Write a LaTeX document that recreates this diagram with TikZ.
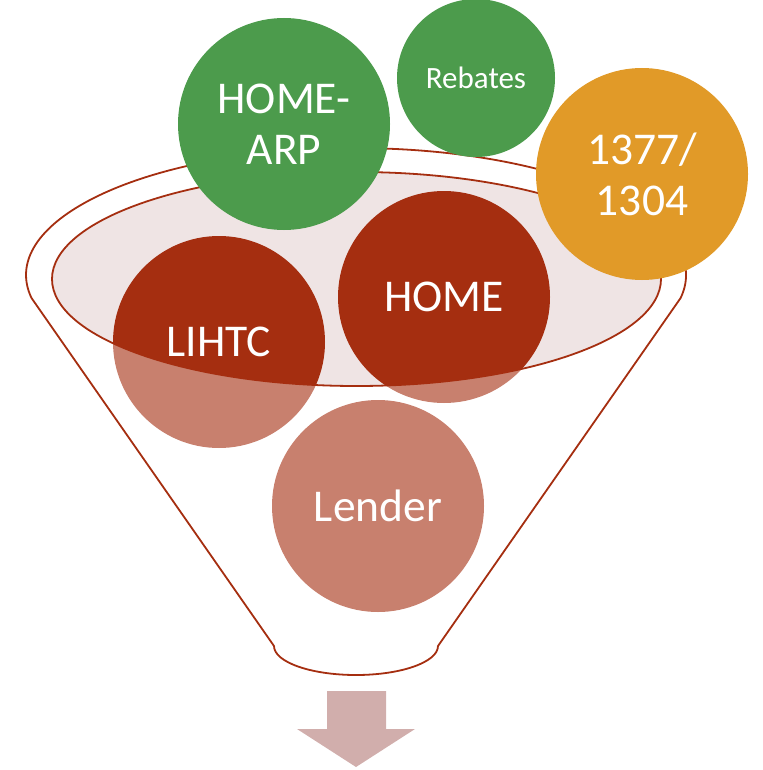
\documentclass[tikz,border=0pt]{standalone}
\usepackage{fontspec}
\setmainfont{Carlito}
\definecolor{fungreen}{RGB}{76,155,76}
\definecolor{funorange}{RGB}{225,154,40}
\definecolor{fundark}{RGB}{165,46,16}
\definecolor{funlight}{RGB}{200,128,110}
\definecolor{funmouth}{RGB}{239,228,228}
\definecolor{funarrow}{RGB}{209,174,172}
\begin{document}
\begin{tikzpicture}[x=1pt,y=-1pt,
  ball/.style={circle,minimum size=212pt,inner sep=0pt,draw=none},
  smallball/.style={circle,minimum size=158pt,inner sep=0pt,draw=none},
  balltext/.style={text=white,align=center,inner sep=0pt,
    font=\fontsize{45.5}{51}\selectfont},
  smalltext/.style={text=white,align=center,inner sep=0pt,
    font=\fontsize{31}{34}\selectfont},
  rim/.style={draw=fundark,line width=1.8pt}]
\useasboundingbox (0,0) rectangle (762,770);

% balls sitting in the funnel (light parts, below the mouth)
\node[ball,fill=funlight] (lihtc) at (219,342) {};
\node[ball,fill=funlight] (home) at (444,297) {};
\node[ball,fill=funlight] (lender) at (378,506) {};

% funnel mouth with the balls seen through it
\coordinate (mouth) at (356.5,279);
\begin{scope}
  \clip (mouth) ellipse [x radius=304.5pt, y radius=107pt];
  \fill[funmouth] (mouth) ellipse [x radius=304.5pt, y radius=107pt];
  \fill[fundark] (lihtc.center) circle [radius=106pt];
  \fill[fundark] (home.center) circle [radius=106pt];
\end{scope}
\draw[rim] (mouth) ellipse [x radius=304.5pt, y radius=107pt];

% funnel body outline
\coordinate (lc) at (31.5,298);
\coordinate (rc) at (681.5,298);
\coordinate (bl) at (274,646);
\coordinate (br) at (438,646);
\draw[rim,line join=round]
  (lc) arc [start angle=190.4, end angle=-10.4, x radius=330pt, y radius=127pt]
  -- (br) arc [start angle=0, end angle=-180, x radius=82pt, y radius=29pt]
  -- cycle;

% labels of the balls in the funnel
\node[balltext] (lihtc-t) at (lihtc.center) {LIHTC};
\node[balltext] (home-t) at (home.center) {HOME};
\node[balltext] (lender-t) at (lender.center) {Lender};

% balls waiting above the funnel
\node[ball,fill=fungreen] (homearp) at (284,124) {};
\node[balltext] (homearp-t) at (homearp.center) {HOME-\\ARP};
\node[smallball,fill=fungreen] (rebates) at (476,78) {};
\node[smalltext] (rebates-t) at (rebates.center) {Rebates};
\node[ball,fill=funorange] (sec) at (642,174) {};
\node[balltext] (sec-t) at (sec.center) {1377/\\1304};

% output arrow
\fill[funarrow] (327,691) -- (386,691) -- (386,729) -- (415,729)
  -- (356,767) -- (297,729) -- (327,729) -- cycle;
\end{tikzpicture}
\end{document}
